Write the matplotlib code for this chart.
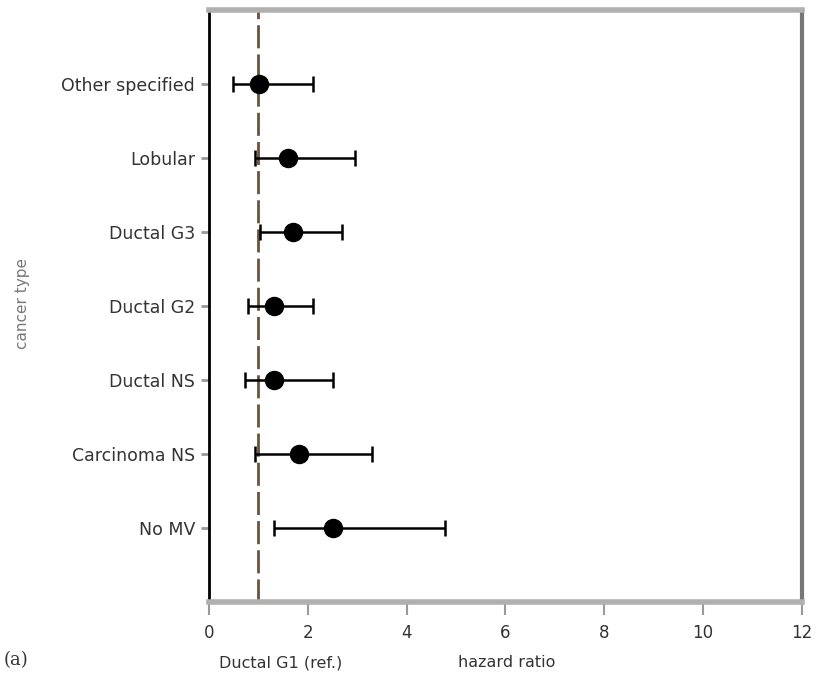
import matplotlib
matplotlib.use('agg')
import matplotlib.pyplot as plt
import numpy as np

# cancer types, bottom to top
types = ['No MV', 'Carcinoma NS', 'Ductal NS', 'Ductal G2', 'Ductal G3', 'Lobular', 'Other specified']
hr = [2.51, 1.82, 1.32, 1.32, 1.70, 1.60, 1.01]
lo = [1.32, 0.93, 0.73, 0.79, 1.03, 0.93, 0.49]
hi = [4.78, 3.30, 2.51, 2.10, 2.69, 2.95, 2.10]
xticks = [0, 2, 4, 6, 8, 10, 12]

plt.rcParams['font.family'] = ['DejaVu Sans']

fig = plt.figure(figsize=(8.17, 6.77), dpi=100)
ax = fig.add_axes([0.2558, 0.1108, 0.7258, 0.8744])

ypos = np.arange(1, len(types) + 1)
hr = np.array(hr); lo = np.array(lo); hi = np.array(hi)
ax.axvline(1, color='#66543f', linestyle=(0, (8.3, 2.2)), linewidth=2, zorder=1)
ax.errorbar(hr, ypos, xerr=[hr - lo, hi - hr], fmt='o', color='black',
            markersize=13, elinewidth=1.8, capsize=6, capthick=1.8, zorder=3)

ax.set_xlim(0, 12)
ax.set_ylim(0, 8)
ax.set_xticks(xticks)
ax.set_xticklabels([str(t) for t in xticks])
ax.set_yticks(ypos)
ax.set_yticklabels(types)

ax.spines['left'].set_color('black')
ax.spines['left'].set_linewidth(2)
ax.spines['top'].set_color('#b0b0b0')
ax.spines['top'].set_linewidth(4)
ax.spines['bottom'].set_color('#b0b0b0')
ax.spines['bottom'].set_linewidth(4)
ax.spines['right'].set_color('#777777')
ax.spines['right'].set_linewidth(3)

ax.tick_params(axis='x', direction='out', length=9, width=1.5, color='#999999',
               labelsize=12, labelcolor='#333333', pad=7)
ax.tick_params(axis='y', direction='out', length=6, width=2, color='#999999',
               labelsize=12.5, labelcolor='#333333', pad=4)

fig.text(0.027, 0.551, 'cancer type', rotation=90, va='center', ha='center',
         fontsize=11, color='#777777')
fig.text(0.620, 0.021, 'hazard ratio', ha='center', va='center', fontsize=11.5, color='#333333')
fig.text(0.343, 0.021, 'Ductal G1 (ref.)', ha='center', va='center', fontsize=11.5, color='#333333')
fig.text(0.020, 0.025, '(a)', fontsize=13, ha='center', va='center',
         family='DejaVu Serif', color='#333333')

plt.savefig('out.png', dpi=100)
plt.close()
